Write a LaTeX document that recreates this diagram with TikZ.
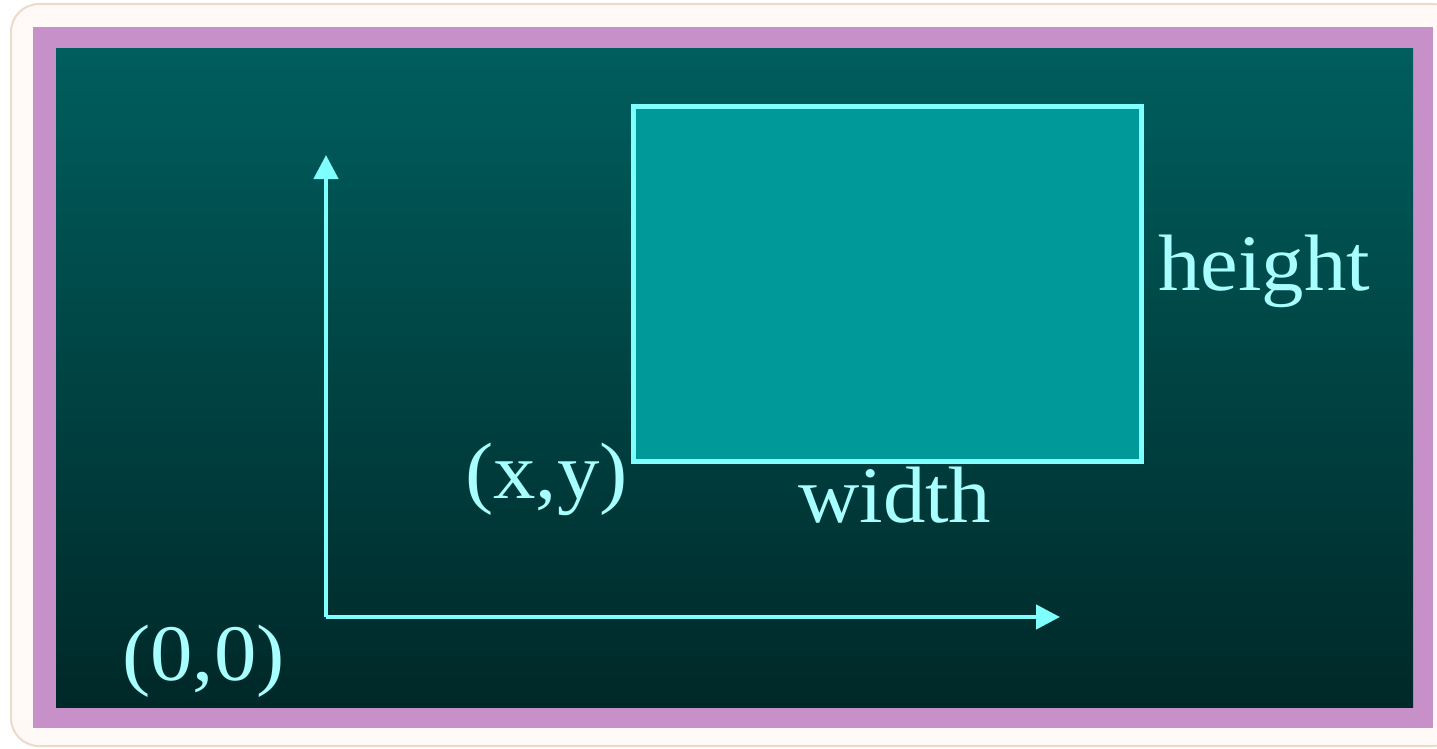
\documentclass[tikz,border=0pt]{standalone}
\usepackage{fontspec}
\setmainfont{Liberation Serif}
\usetikzlibrary{arrows.meta}
\definecolor{frameP}{HTML}{C890C8}
\definecolor{bgtop}{HTML}{005E5E}
\definecolor{bgbot}{HTML}{002828}
\definecolor{boxfill}{HTML}{009999}
\definecolor{lineC}{HTML}{80FFFF}
\definecolor{textC}{HTML}{A8FFFF}
\definecolor{paper}{HTML}{FFFAF8}
\definecolor{paperedge}{HTML}{EADBCB}
\newcommand{\wide}[1]{\scalebox{1.06}[1]{#1}}
\tikzset{
  lbl/.style={text=textC,font=\fontsize{80}{80}\selectfont,inner sep=0pt,anchor=base west},
  axis/.style={draw=lineC,line width=4.5pt,-{Triangle[width=24pt,length=24pt]}},
}
\begin{document}
\begin{tikzpicture}[x=1pt,y=-1pt]
\useasboundingbox (0,0) rectangle (1437,749);
\fill[white] (0,0) rectangle (1437,749);
\draw[paperedge,fill=paper,line width=2pt,rounded corners=28pt] (11,4) rectangle (1460,746);
\fill[frameP] (33,27) rectangle (1433,728);
\shade[top color=bgtop,bottom color=bgbot] (56,49) rectangle (1413,707);
\node[draw=lineC,fill=boxfill,line width=5pt,minimum width=508pt,minimum height=354pt,inner sep=0pt,anchor=north west] (box) at (630.5,104.5) {};
\coordinate (o) at (326,617);
\coordinate (ytip) at (326,155);
\coordinate (xtip) at (1060,617);
\draw[axis] (o) -- (ytip);
\draw[axis] (o) -- (xtip);
\node[lbl] (h) at (1158,290) {\wide{height}};
\node[lbl] (w) at (798,522) {\wide{width}};
\node[lbl] (xy) at (465,498) {\wide{(x,y)}};
\node[lbl] (zero) at (122,680) {\wide{(0,0)}};
\end{tikzpicture}
\end{document}
